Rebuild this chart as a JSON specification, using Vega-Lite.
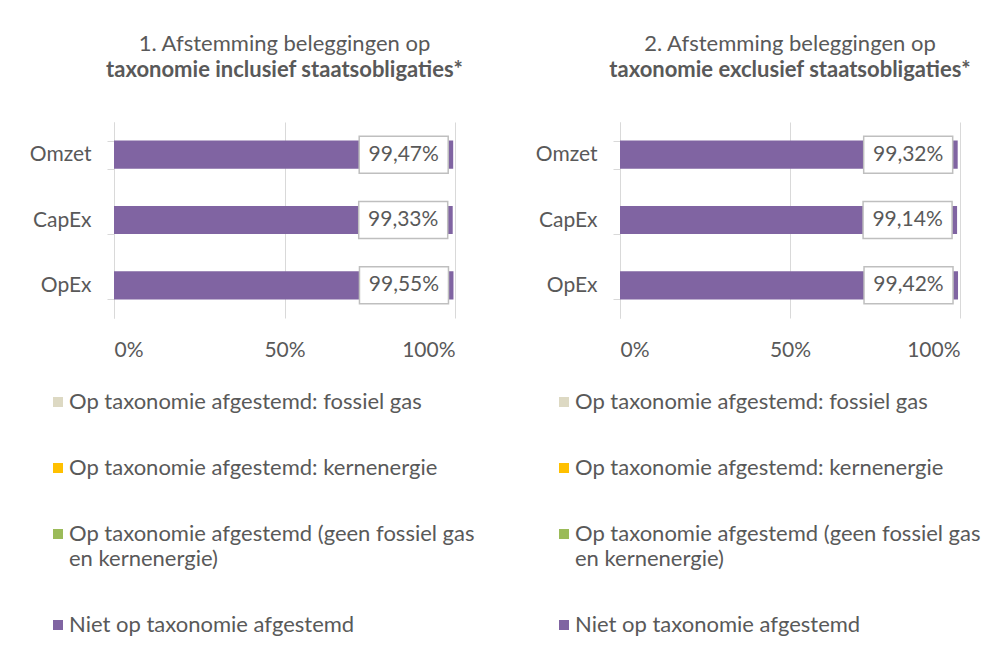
{
  "$schema": "https://vega.github.io/schema/vega-lite/v6.json",
  "padding": {"left": 29, "top": 33, "right": 5, "bottom": 5},
  "background": "white",
  "config": {
    "locale": {"number": {"decimal": ",", "thousands": ".", "grouping": [3], "currency": ["€ ", ""]}},
    "font": "Lato",
    "view": {"stroke": null},
    "concat": {"spacing": 60},
    "style": {"guide-label": {"lineHeight": 25}},
    "title": {"font": "Lato", "fontSize": 22, "fontWeight": "normal", "color": "#595959", "subtitleFont": "Lato", "subtitleFontSize": 22, "subtitleFontWeight": "bold", "subtitleColor": "#595959", "subtitlePadding": 4, "offset": 29, "anchor": "middle"},
    "legend": {"orient": "none", "legendX": -67, "legendY": 269, "direction": "vertical", "symbolType": "square", "symbolSize": 100, "symbolStrokeWidth": 0, "labelFontSize": 22, "labelColor": "#595959", "labelFont": "Lato", "labelLimit": 600, "rowPadding": 44, "labelOffset": 0}
  },
  "datasets": {
    "incl": [
      {"categorie": "Omzet", "reeks": "Niet op taxonomie afgestemd", "waarde": 0.9947},
      {"categorie": "CapEx", "reeks": "Niet op taxonomie afgestemd", "waarde": 0.9933},
      {"categorie": "OpEx", "reeks": "Niet op taxonomie afgestemd", "waarde": 0.9955}
    ],
    "excl": [
      {"categorie": "Omzet", "reeks": "Niet op taxonomie afgestemd", "waarde": 0.9932},
      {"categorie": "CapEx", "reeks": "Niet op taxonomie afgestemd", "waarde": 0.9914},
      {"categorie": "OpEx", "reeks": "Niet op taxonomie afgestemd", "waarde": 0.9942}
    ]
  },
  "hconcat": [
    {
      "width": 341,
      "height": 196,
      "title": {"text": "1. Afstemming  beleggingen op", "subtitle": "taxonomie inclusief staatsobligaties*"},
      "data": {"name": "incl"},
      "encoding": {
        "y": {"field": "categorie", "type": "nominal", "sort": ["Omzet", "CapEx", "OpEx"], "scale": {"paddingInner": 0.57, "paddingOuter": 0.285},
          "axis": {"title": null, "domain": true, "domainColor": "#d9d9d9", "ticks": true, "tickBand": "extent", "tickSize": 7, "tickColor": "#d9d9d9", "labelFontSize": 21, "labelColor": "#595959", "labelPadding": 16, "grid": false}},
        "x": {"field": "waarde", "type": "quantitative", "scale": {"domain": [0, 1]},
          "axis": {"title": null, "values": [0, 0.5, 1], "format": ".0%", "domain": false, "ticks": false, "grid": true, "gridColor": "#d9d9d9", "labelFontSize": 21, "labelColor": "#595959", "labelPadding": 21}}
      },
      "layer": [
        {"mark": {"type": "bar"},
          "encoding": {"color": {"field": "reeks", "type": "nominal",
            "scale": {"domain": ["Op taxonomie afgestemd: fossiel gas", "Op taxonomie afgestemd: kernenergie", "Op taxonomie afgestemd (geen fossiel gas en kernenergie)", "Niet op taxonomie afgestemd"], "range": ["#DDD9C3", "#FFC000", "#9BBB59", "#8064A2"]},
            "legend": {"title": null, "labelExpr": "datum.label == 'Op taxonomie afgestemd (geen fossiel gas en kernenergie)' ? ['Op taxonomie afgestemd (geen fossiel gas', 'en kernenergie)'] : datum.label"}}}},
        {"mark": {"type": "point", "shape": "M-1,-0.416H1V0.416H-1Z", "size": 7921, "fill": "white", "stroke": "#bfbfbf", "strokeWidth": 1.5, "opacity": 1, "xOffset": -49.5}},
        {"mark": {"type": "text", "dx": -49.5, "align": "center", "baseline": "middle", "fontSize": 21, "color": "#595959"},
          "encoding": {"text": {"field": "waarde", "type": "quantitative", "format": ".2%"}}}
      ]
    },
    {
      "width": 340,
      "height": 196,
      "title": {"text": "2. Afstemming  beleggingen op", "subtitle": "taxonomie exclusief staatsobligaties*"},
      "data": {"name": "excl"},
      "encoding": {
        "y": {"field": "categorie", "type": "nominal", "sort": ["Omzet", "CapEx", "OpEx"], "scale": {"paddingInner": 0.57, "paddingOuter": 0.285},
          "axis": {"title": null, "domain": true, "domainColor": "#d9d9d9", "ticks": true, "tickBand": "extent", "tickSize": 7, "tickColor": "#d9d9d9", "labelFontSize": 21, "labelColor": "#595959", "labelPadding": 16, "grid": false}},
        "x": {"field": "waarde", "type": "quantitative", "scale": {"domain": [0, 1]},
          "axis": {"title": null, "values": [0, 0.5, 1], "format": ".0%", "domain": false, "ticks": false, "grid": true, "gridColor": "#d9d9d9", "labelFontSize": 21, "labelColor": "#595959", "labelPadding": 21}}
      },
      "layer": [
        {"mark": {"type": "bar"},
          "encoding": {"color": {"field": "reeks", "type": "nominal",
            "scale": {"domain": ["Op taxonomie afgestemd: fossiel gas", "Op taxonomie afgestemd: kernenergie", "Op taxonomie afgestemd (geen fossiel gas en kernenergie)", "Niet op taxonomie afgestemd"], "range": ["#DDD9C3", "#FFC000", "#9BBB59", "#8064A2"]},
            "legend": {"title": null, "labelExpr": "datum.label == 'Op taxonomie afgestemd (geen fossiel gas en kernenergie)' ? ['Op taxonomie afgestemd (geen fossiel gas', 'en kernenergie)'] : datum.label"}}}},
        {"mark": {"type": "point", "shape": "M-1,-0.416H1V0.416H-1Z", "size": 7921, "fill": "white", "stroke": "#bfbfbf", "strokeWidth": 1.5, "opacity": 1, "xOffset": -49.5}},
        {"mark": {"type": "text", "dx": -49.5, "align": "center", "baseline": "middle", "fontSize": 21, "color": "#595959"},
          "encoding": {"text": {"field": "waarde", "type": "quantitative", "format": ".2%"}}}
      ]
    }
  ],
  "resolve": {"scale": {"color": "independent", "x": "independent", "y": "independent"}, "legend": {"color": "independent"}}
}
